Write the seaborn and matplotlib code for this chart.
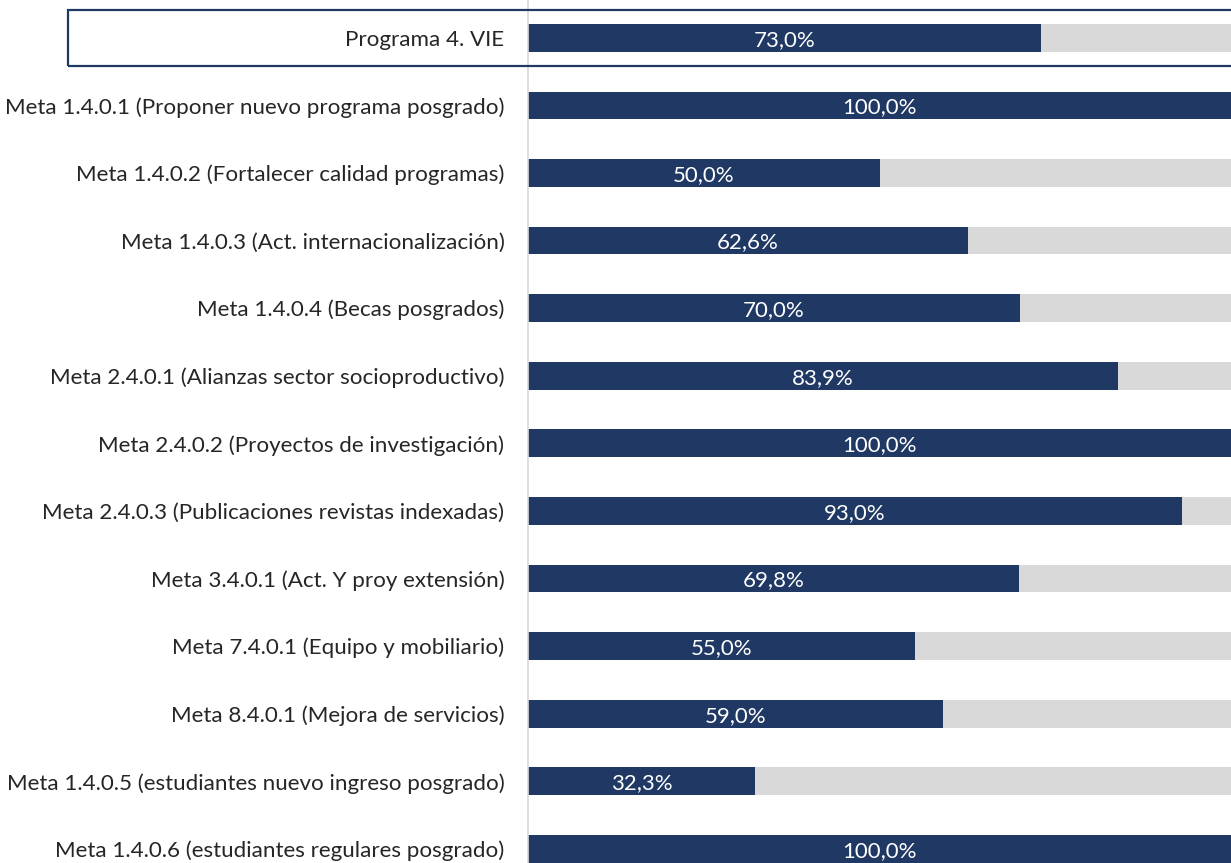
import numpy as np
import pandas as pd
import matplotlib
matplotlib.use('Agg')
import matplotlib.pyplot as plt
import matplotlib.patches as patches
import seaborn as sns

# categories and achievement (%) per goal
labels = ['Programa 4. VIE',
          'Meta 1.4.0.1 (Proponer nuevo programa posgrado)',
          'Meta 1.4.0.2 (Fortalecer calidad programas)',
          'Meta 1.4.0.3 (Act. internacionalización)',
          'Meta 1.4.0.4 (Becas posgrados)',
          'Meta 2.4.0.1 (Alianzas sector socioproductivo)',
          'Meta 2.4.0.2 (Proyectos de investigación)',
          'Meta 2.4.0.3 (Publicaciones revistas indexadas)',
          'Meta 3.4.0.1 (Act. Y proy extensión)',
          'Meta 7.4.0.1 (Equipo y mobiliario)',
          'Meta 8.4.0.1 (Mejora de servicios)',
          'Meta 1.4.0.5 (estudiantes nuevo ingreso posgrado)',
          'Meta 1.4.0.6 (estudiantes regulares posgrado)']
values = [73.0, 100.0, 50.0, 62.6, 70.0, 83.9, 100.0, 93.0, 69.8, 55.0, 59.0, 32.3, 100.0]
total  = [100.0] * len(labels)

navy = '#203864'
grey = '#D9D9D9'

df = pd.DataFrame({'label': labels, 'value': values, 'total': total})

sns.set_style("white")
plt.rcParams['font.family'] = ['Lato', 'DejaVu Sans']

fig = plt.figure(figsize=(12.31, 8.63), dpi=100)
ax  = fig.add_axes([528/1231, 0, 1 - 528/1231, 1])

sns.barplot(data=df, x='total', y='label', color=grey, width=0.41,
            saturation=1, ax=ax, orient='h', linewidth=0)
sns.barplot(data=df, x='value', y='label', color=navy, width=0.41,
            saturation=1, ax=ax, orient='h', linewidth=0)

for i, v in enumerate(values):
    txt = ("%.1f" % v).replace('.', ',') + '%'
    ax.text(v / 2.0, i, txt, color='white', ha='center', va='center_baseline',
            fontsize=16)

ax.set_xlim(0, 100)
ax.set_ylim(12.21, -0.56)
ax.set_xlabel('')
ax.set_ylabel('')
ax.set_xticks([])
ax.tick_params(axis='y', length=0, pad=17, labelsize=16.1)
for s in ['top', 'right', 'bottom']:
    ax.spines[s].set_visible(False)
ax.spines['left'].set_color(grey)
ax.spines['left'].set_linewidth(1.2)

# frame around the program summary row
box = patches.Rectangle((68/1231, 1 - 66/863), 1 - 68/1231 + 0.01, 56/863,
                        transform=fig.transFigure, fill=False,
                        edgecolor=navy, linewidth=1.6, clip_on=False)
fig.patches.append(box)

fig.savefig('out.png', dpi=100)
